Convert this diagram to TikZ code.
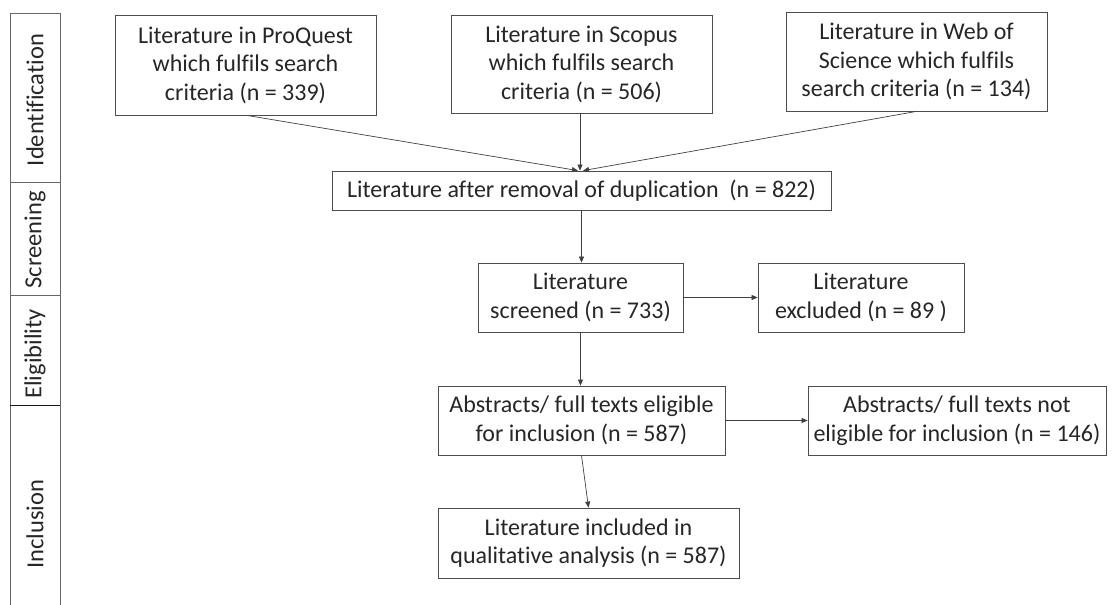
\documentclass[tikz,border=0pt]{standalone}
\usepackage{fontspec}
\setmainfont{Carlito}[Ligatures=NoCommon]
\usetikzlibrary{arrows.meta}
\tikzset{
  box/.style={draw=black!70, line width=0.8pt, inner sep=0pt, align=center, text=black!85,
    font=\fontsize{24}{28.5}\selectfont},
  arr/.style={draw=black!75, line width=0.7pt, -{Triangle[length=6pt,width=5pt]}},
  side/.style={draw=black!60, line width=0.8pt},
  sidelabel/.style={rotate=90, text=black!85, font=\fontsize{24.5}{28}\selectfont, inner sep=0pt}
}
\begin{document}
\begin{tikzpicture}[x=1pt,y=-1pt]
\useasboundingbox (0,0) rectangle (1112,605);
% sidebar
\draw[side] (10,605) -- (10,13) -- (60,13) -- (60,605);
\draw[side] (10,182) -- (60,182);
\draw[side] (10,295) -- (60,295);
\draw[side, draw=black!90] (10,405) -- (60,405);
\node[sidelabel] (lid) at (35,100) {Identification};
\node[sidelabel] (lsc) at (35,240) {Screening};
\node[sidelabel] (lel) at (35,354) {Eligibility};
\node[sidelabel] (lin) at (35,524) {Inclusion};
% boxes
\node[box, minimum width=261pt, minimum height=100pt] (pq) at (245.5,65) {Literature in ProQuest\\which fulfils search\\criteria (n = 339)};
\node[box, minimum width=261pt, minimum height=98pt] (sco) at (581.5,64) {Literature in Scopus\\which fulfils search\\criteria (n = 506)};
\node[box, minimum width=261pt, minimum height=99pt] (wos) at (916.5,61.5) {Literature in Web of\\Science which fulfils\\search criteria (n = 134)};
\node[box, minimum width=499pt, minimum height=39pt] (dup) at (581.5,190.5) {Literature after removal of duplication\ \ (n = 822)};
\node[box, minimum width=205pt, minimum height=69pt] (scr) at (580.5,297.5) {Literature\\screened (n = 733)};
\node[box, minimum width=206pt, minimum height=69pt] (exc) at (861,297.5) {Literature\\excluded (n = 89 )};
\node[box, minimum width=287pt, minimum height=69pt] (eli) at (581.5,420.5) {Abstracts/ full texts eligible\\for inclusion (n = 587)};
\node[box, minimum width=298pt, minimum height=69pt] (nel) at (957,420.5) {Abstracts/ full texts not\\eligible for inclusion (n = 146)};
\node[box, minimum width=301pt, minimum height=70pt] (inc) at (588.5,543) {Literature included in\\qualitative analysis (n = 587)};
% connectors
\draw[arr] ([xshift=1.5pt]pq.south) -- ([xshift=-3.5pt]dup.north);
\draw[arr] ([xshift=-1.5pt]sco.south) -- ([xshift=-1.5pt]dup.north);
\draw[arr] (wos.south) -- ([xshift=1.5pt]dup.north);
\draw[arr] (dup.south) -- (dup.south |- scr.north);
\draw[arr] (scr.east) -- (exc.west);
\draw[arr] (scr.south) -- (scr.south |- eli.north);
\draw[arr] (eli.east) -- (nel.west);
\draw[arr] (eli.south) -- (inc.north);
\end{tikzpicture}
\end{document}
